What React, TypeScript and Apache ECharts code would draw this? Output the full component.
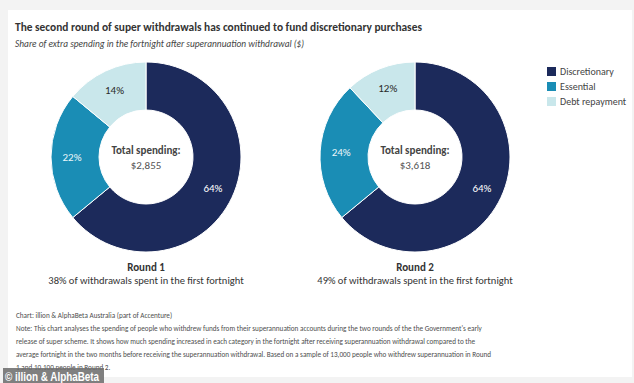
import React, { useEffect, useRef } from "react";
import * as echarts from "echarts";

const categories = ["Discretionary", "Essential", "Debt repayment"];
const round1Values = [64, 22, 14];
const round2Values = [64, 24, 12];
const totals = ["$2,855", "$3,618"];
const roundTitles = ["Round 1", "Round 2"];
const roundNotes = [
  "38% of withdrawals spent in the first fortnight",
  "49% of withdrawals spent in the first fortnight",
];
const titleText = "The second round of super withdrawals has continued to fund discretionary purchases";
const subtitleText = "Share of extra spending in the fortnight after superannuation withdrawal ($)";
const footerLines = [
  "Chart: illion & AlphaBeta Australia (part of Accenture)",
  "Note: This chart analyses the spending of people who withdrew funds from their superannuation accounts during the two rounds of the the Government's early",
  "release of super scheme. It shows how much spending increased in each category in the fortnight after receiving superannuation withdrawal compared to the",
  "average fortnight in the two months before receiving the superannuation withdrawal. Based on a sample of 13,000 people who withdrew superannuation in Round",
  "1 and 10,100 people in Round 2.",
];
const watermark = "© illion & AlphaBeta";

const COLORS = ["#1c2a5b", "#1a8db5", "#c9e7eb"];
const LABEL_COLORS = ["#ffffff", "#eaf6fa", "#2a2a2a"];
const FONT = "Carlito, Lato, sans-serif";

export default function App() {
  const ref = useRef<HTMLDivElement>(null);
  useEffect(() => {
    document.body.style.margin = "0";
    document.body.style.background = "#f3f3f3";
    const chart = echarts.init(ref.current!, null, { renderer: "svg" });
    const centers = [
      [146, 157],
      [415, 157],
    ];
    const mkSeries = (vals: number[], i: number) => ({
      type: "pie",
      name: roundTitles[i],
      center: centers[i],
      radius: [47, 95],
      startAngle: 90,
      clockwise: true,
      avoidLabelOverlap: false,
      silent: true,
      itemStyle: { borderColor: "#ffffff", borderWidth: 1 },
      label: {
        show: true,
        position: "inside",
        formatter: "{c}%",
        fontFamily: FONT,
        fontSize: 11,
      },
      labelLine: { show: false },
      data: vals.map((v, k) => ({
        name: categories[k],
        value: v,
        itemStyle: { color: COLORS[k] },
        label: { color: LABEL_COLORS[k] },
      })),
    });
    const graphic: any[] = [
      { type: "rect", shape: { x: 8, y: 10, width: 624, height: 367 }, style: { fill: "#ffffff" }, z: -10 },
      {
        type: "text",
        x: 15,
        y: 27,
        style: { text: titleText, fill: "#333333", font: `bold 11.4px ${FONT}`, align: "left", verticalAlign: "middle" },
      },
      {
        type: "text",
        x: 15,
        y: 44,
        style: { text: subtitleText, fill: "#444444", font: `italic 9.4px ${FONT}`, align: "left", verticalAlign: "middle" },
      },
    ];
    centers.forEach((c, i) => {
      graphic.push({
        type: "text",
        x: c[0],
        y: c[1] - 7,
        style: { text: "Total spending:", fill: "#444444", font: `bold 11px ${FONT}`, align: "center", verticalAlign: "middle" },
      });
      graphic.push({
        type: "text",
        x: c[0],
        y: c[1] + 8,
        style: { text: totals[i], fill: "#555555", font: `11px ${FONT}`, align: "center", verticalAlign: "middle" },
      });
      graphic.push({
        type: "text",
        x: c[0],
        y: 267,
        style: { text: roundTitles[i], fill: "#333333", font: `bold 11px ${FONT}`, align: "center", verticalAlign: "middle" },
      });
      graphic.push({
        type: "text",
        x: c[0],
        y: 280,
        style: { text: roundNotes[i], fill: "#333333", font: `10.5px ${FONT}`, align: "center", verticalAlign: "middle" },
      });
    });
    footerLines.forEach((t, i) => {
      graphic.push({
        type: "text",
        x: 16,
        y: 315 + i * 13,
        style: { text: t, fill: "#4d4d4d", font: `7.2px ${FONT}`, align: "left", verticalAlign: "middle" },
      });
    });
    graphic.push({
      type: "rect",
      shape: { x: 3, y: 368, width: 101, height: 15 },
      style: { fill: "rgba(110,110,110,0.88)" },
      z: 20,
    });
    graphic.push({
      type: "text",
      x: 5,
      y: 376,
      z: 21,
      scaleX: 0.76,
      style: { text: watermark, fill: "#ffffff", font: `bold 13px "Liberation Sans", Arial, sans-serif`, align: "left", verticalAlign: "middle" },
    });
    chart.setOption({
      animation: false,
      legend: {
        orient: "vertical",
        left: 545,
        top: 65,
        padding: 0,
        itemWidth: 11,
        itemHeight: 11,
        itemGap: 2,
        icon: "rect",
        selectedMode: false,
        data: categories,
        textStyle: { fontFamily: FONT, fontSize: 10, color: "#444444", padding: [0, 0, 0, -2] },
      },
      graphic,
      series: [mkSeries(round1Values, 0), mkSeries(round2Values, 1)],
    });
    return () => chart.dispose();
  }, []);
  return <div ref={ref} style={{ width: 634, height: 383 }} />;
}
